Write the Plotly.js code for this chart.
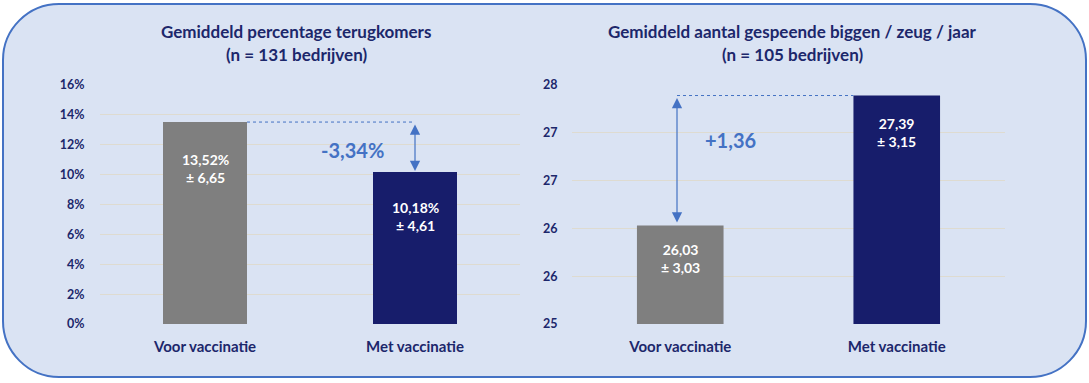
<!DOCTYPE html>
<html><head><meta charset="utf-8">
<script src="https://cdn.plot.ly/plotly-3.0.1.min.js"></script>
<style>html,body{margin:0;padding:0;background:#fff;}#chart{width:1089px;height:383px;}</style>
</head><body><div id="chart"></div>
<script>
// ---- data ----
const categories = ['Voor vaccinatie', 'Met vaccinatie'];
const leftTitle = 'Gemiddeld percentage terugkomers';
const leftSubtitle = '(n = 131 bedrijven)';
const leftValues = [13.52, 10.18];      // %
const leftSD = [6.65, 4.61];
const rightTitle = 'Gemiddeld aantal gespeende biggen / zeug / jaar';
const rightSubtitle = '(n = 105 bedrijven)';
const rightValues = [26.03, 27.39];
const rightSD = [3.03, 3.15];
const leftTickVals = [0, 2, 4, 6, 8, 10, 12, 14, 16];
const leftTickLabels = ['0%', '2%', '4%', '6%', '8%', '10%', '12%', '14%', '16%'];
const rightTickVals = [25, 25.5, 26, 26.5, 27, 27.5];
const rightTickLabels = ['25', '26', '26', '27', '27', '28'];

// ---- styling ----
const W = 1089, H = 383;
const NAVY_TXT = '#1c276b';
const GRAY = '#7f7f7f', NAVY = '#171d6b', ACCENT = '#4472c4';
const FONT = 'Lato, Carlito, "Open Sans", sans-serif';
const fmt = (v, d) => v.toFixed(d).replace('.', ',');
const X = px => px / W, Y = py => 1 - py / H;

function roundRect(x0, y0, x1, y1, r) {
  const k = 0.5523 * r;
  return [
    'M', X(x0 + r), Y(y0),
    'L', X(x1 - r), Y(y0),
    'C', X(x1 - r + k), Y(y0), X(x1), Y(y0 + r - k), X(x1), Y(y0 + r),
    'L', X(x1), Y(y1 - r),
    'C', X(x1), Y(y1 - r + k), X(x1 - r + k), Y(y1), X(x1 - r), Y(y1),
    'L', X(x0 + r), Y(y1),
    'C', X(x0 + r - k), Y(y1), X(x0), Y(y1 - r + k), X(x0), Y(y1 - r),
    'L', X(x0), Y(y0 + r),
    'C', X(x0), Y(y0 + r - k), X(x0 + r - k), Y(y0), X(x0 + r), Y(y0),
    'Z'].join(' ');
}

const xIdx = categories.map((c, i) => i);
const barW = 0.4;

const traces = [
  { type: 'bar', x: xIdx, y: leftValues, width: barW, xaxis: 'x', yaxis: 'y',
    marker: { color: [GRAY, NAVY] }, hoverinfo: 'skip' },
  { type: 'bar', x: xIdx, y: rightValues, width: barW, xaxis: 'x2', yaxis: 'y2',
    marker: { color: [GRAY, NAVY] }, hoverinfo: 'skip' }
];

const yDom = [Y(324), Y(85)];
const axCommon = { showgrid: true, gridcolor: '#dedbd0', gridwidth: 1, zeroline: false, showline: false,
  ticks: 'outside', tickcolor: 'rgba(0,0,0,0)', fixedrange: true,
  tickfont: { family: FONT, size: 12.5, color: NAVY_TXT, weight: 'bold' } };
const xCommon = { showgrid: false, zeroline: false, showline: false, range: [-0.5, 1.5],
  tickvals: xIdx, ticktext: categories, ticks: 'outside', ticklen: 9, tickcolor: 'rgba(0,0,0,0)',
  tickfont: { family: FONT, size: 15, color: NAVY_TXT, weight: 'bold' }, fixedrange: true };

const labelShiftsL = [-46, -45];
const labelShiftsR = [-33, -37];
const annotations = [];
const titleFont = { family: FONT, size: 17, color: NAVY_TXT, weight: 'bold' };
function title(x, y, t) {
  annotations.push({ xref: 'paper', yref: 'paper', x: X(x), y: Y(y), text: '<b>' + t + '</b>', showarrow: false,
    font: titleFont, xanchor: 'center', yanchor: 'middle' });
}
title(296, 32, leftTitle);
title(296, 54, leftSubtitle);
title(792, 32, rightTitle);
title(792, 54, rightSubtitle);

const barLblFont = { family: FONT, size: 14, color: '#ffffff', weight: 'bold' };
leftValues.forEach((v, i) => annotations.push({ xref: 'x', yref: 'y', x: i, y: v, yshift: labelShiftsL[i],
  xanchor: 'center', yanchor: 'middle',
  text: '<b>' + fmt(v, 2) + '%<br>± ' + fmt(leftSD[i], 2) + '</b>', showarrow: false, font: barLblFont }));
rightValues.forEach((v, i) => annotations.push({ xref: 'x2', yref: 'y2', x: i, y: v, yshift: labelShiftsR[i],
  xanchor: 'center', yanchor: 'middle',
  text: '<b>' + fmt(v, 2) + '<br>± ' + fmt(rightSD[i], 2) + '</b>', showarrow: false, font: barLblFont }));

// difference arrows
annotations.push({ xref: 'x', yref: 'y', axref: 'x', ayref: 'y', x: 1, y: leftValues[1], ax: 1, ay: leftValues[0],
  text: '', showarrow: true, arrowside: 'end+start', arrowhead: 2, startarrowhead: 2, arrowsize: 1.7, startarrowsize: 1.7,
  arrowwidth: 1.2, arrowcolor: ACCENT, standoff: 1, startstandoff: 1 });
annotations.push({ xref: 'x2', yref: 'y2', axref: 'x2', ayref: 'y2', x: -0.015, y: rightValues[0], ax: -0.015, ay: rightValues[1],
  text: '', showarrow: true, arrowside: 'end+start', arrowhead: 2, startarrowhead: 2, arrowsize: 1.7, startarrowsize: 1.7,
  arrowwidth: 1.2, arrowcolor: ACCENT, standoff: 3, startstandoff: 1 });
const diffFont = { family: FONT, size: 20, color: ACCENT, weight: 'bold' };
const dL = leftValues[1] - leftValues[0];
const dR = rightValues[1] - rightValues[0];
annotations.push({ xref: 'x', yref: 'y', x: 0.7, y: (leftValues[0] + leftValues[1]) / 2, yshift: -3,
  xanchor: 'center', yanchor: 'middle',
  text: '<b>' + (dL < 0 ? '-' : '+') + fmt(Math.abs(dL), 2) + '%</b>', showarrow: false, font: diffFont });
annotations.push({ xref: 'x2', yref: 'y2', x: 0.23, y: (rightValues[0] + rightValues[1]) / 2, yshift: 21,
  xanchor: 'center', yanchor: 'middle',
  text: '<b>' + (dR < 0 ? '-' : '+') + fmt(Math.abs(dR), 2) + '</b>', showarrow: false, font: diffFont });

const shapes = [
  { type: 'path', xref: 'paper', yref: 'paper', path: roundRect(3, 4, 1086, 377, 56),
    fillcolor: '#dae3f3', line: { color: ACCENT, width: 2 }, layer: 'below' },
  { type: 'line', xref: 'x', yref: 'y', x0: barW / 2, x1: 1, y0: leftValues[0], y1: leftValues[0],
    line: { color: ACCENT, width: 1, dash: 'dot' } },
  { type: 'line', xref: 'x2', yref: 'y2', x0: -0.015, x1: 1 - barW / 2, y0: rightValues[1], y1: rightValues[1],
    line: { color: ACCENT, width: 1, dash: 'dot' } }
];

const layout = {
  width: W, height: H, margin: { l: 0, r: 0, t: 0, b: 0 },
  paper_bgcolor: '#ffffff', plot_bgcolor: 'rgba(0,0,0,0)', showlegend: false,
  font: { family: FONT, color: NAVY_TXT },
  xaxis: Object.assign({}, xCommon, { domain: [X(100), X(520)], anchor: 'y' }),
  yaxis: Object.assign({}, axCommon, { domain: yDom, range: [0, 16], tickvals: leftTickVals, ticktext: leftTickLabels, ticklen: 12, anchor: 'x' }),
  xaxis2: Object.assign({}, xCommon, { domain: [X(572), X(1005)], anchor: 'y2' }),
  yaxis2: Object.assign({}, axCommon, { domain: yDom, range: [25, 27.5], tickvals: rightTickVals, ticktext: rightTickLabels, ticklen: 11, anchor: 'x2' }),
  annotations: annotations, shapes: shapes
};

Plotly.newPlot('chart', traces, layout, { displayModeBar: false, staticPlot: true });
</script></body></html>
